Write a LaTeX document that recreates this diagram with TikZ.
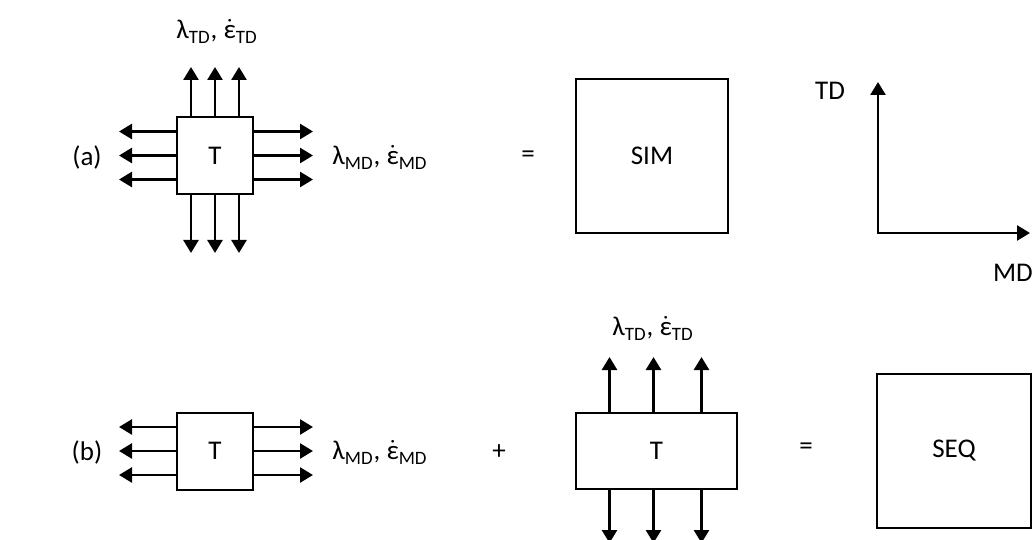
\documentclass[tikz,border=0pt]{standalone}
\usepackage{amsmath}
\usepackage{fontspec}
\setmainfont{Carlito}
\usetikzlibrary{arrows.meta, calc}

\newcommand{\edot}{\ensuremath{\dot{\text{ε}}}}
\newcommand{\lamsub}[1]{λ\textsubscript{#1}, \edot\textsubscript{#1}}

\begin{document}
\begin{tikzpicture}[
  x=0.5pt, y=-0.5pt,
  every node/.style={font=\fontsize{13.5}{16}\selectfont},
  tbox/.style={draw, line width=1pt, inner sep=0pt},
  arr/.style={line width=1.3pt, -{Triangle[width=7.5pt,length=6.5pt]}},
  axes/.style={line width=1.3pt, {Triangle[width=7.5pt,length=6.5pt]}-{Triangle[width=7.5pt,length=6.5pt]}}
]
  \useasboundingbox (0,0) rectangle (1035,540);

  % (a) simultaneous
  \node (la) at (87,157) {(a)};
  \node[tbox, minimum width=38pt, minimum height=38.5pt] (ta) at (215,155.5) {T};
  \node (tda) at (217,31) {\lamsub{TD}};
  \node[anchor=west, inner sep=0pt] (mda) at (332,157) {\lamsub{MD}};
  \node (eqa) at (528,157) {=};
  \node[tbox, minimum width=76pt, minimum height=77pt] (sim) at (652,156) {SIM};

  \foreach \d [count=\i] in {-24,0,24} {
    \coordinate (ta-u\i) at ($(ta.north)+(\d,-49)$);
    \coordinate (ta-d\i) at ($(ta.south)+(\d,58)$);
    \coordinate (ta-l\i) at ($(ta.west)+(-57,\d)$);
    \coordinate (ta-r\i) at ($(ta.east)+(59,\d)$);
    \draw[arr] ($(ta.north)+(\d,0)$) -- (ta-u\i);
    \draw[arr] ($(ta.south)+(\d,0)$) -- (ta-d\i);
    \draw[arr] ($(ta.west)+(0,\d)$) -- (ta-l\i);
    \draw[arr] ($(ta.east)+(0,\d)$) -- (ta-r\i);
  }

  % axes
  \coordinate (o) at (878,233);
  \coordinate (tdend) at (878,82);
  \coordinate (mdend) at (1030,233);
  \draw[axes] (tdend) -- (o) -- (mdend);
  \node (tdax) at (830,91) {TD};
  \node (mdax) at (1013,273) {MD};

  % (b) sequential
  \node (lb) at (87,452) {(b)};
  \node[tbox, minimum width=38pt, minimum height=38.5pt] (tb) at (215,451) {T};
  \node[anchor=west, inner sep=0pt] (mdb) at (332,452) {\lamsub{MD}};
  \node (plus) at (499,452) {+};
  \node[tbox, minimum width=80.5pt, minimum height=38pt] (tc) at (656.5,451) {T};
  \node (tdc) at (653,328) {\lamsub{TD}};
  \node (eqb) at (806,449) {=};
  \node[tbox, minimum width=77pt, minimum height=77pt] (seq) at (954,451) {SEQ};

  \foreach \d [count=\i] in {-24,0,24} {
    \coordinate (tb-l\i) at ($(tb.west)+(-57,\d)$);
    \coordinate (tb-r\i) at ($(tb.east)+(59,\d)$);
    \draw[arr] ($(tb.west)+(0,\d)$) -- (tb-l\i);
    \draw[arr] ($(tb.east)+(0,\d)$) -- (tb-r\i);
  }
  \foreach \d [count=\i] in {-47,-3,45} {
    \coordinate (tc-u\i) at ($(tc.north)+(\d,-55)$);
    \coordinate (tc-d\i) at ($(tc.south)+(\d,53)$);
    \draw[arr] ($(tc.north)+(\d,0)$) -- (tc-u\i);
    \draw[arr] ($(tc.south)+(\d,0)$) -- (tc-d\i);
  }
\end{tikzpicture}
\end{document}
